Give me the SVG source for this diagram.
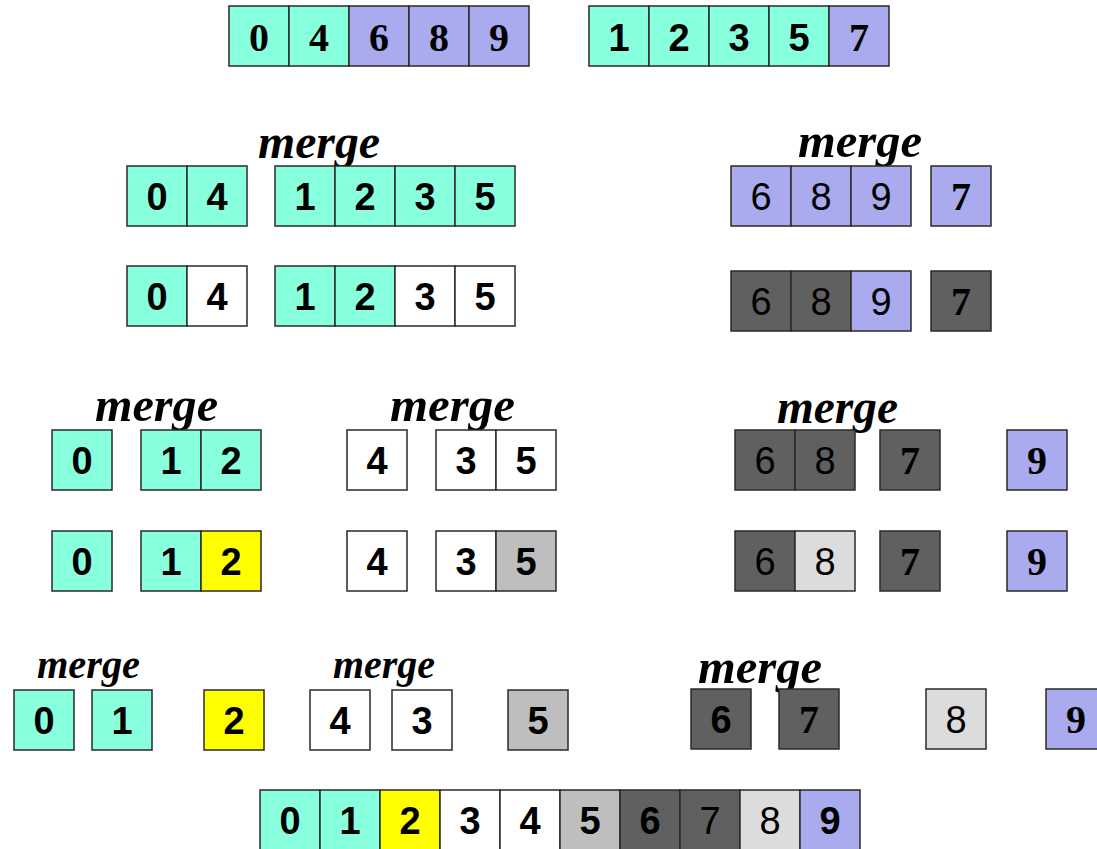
<svg xmlns="http://www.w3.org/2000/svg" width="1097" height="849" viewBox="0 0 1097 849">
<style>
.c rect{stroke:#2a2a2a;stroke-width:1.5}
.aq{fill:#88FFDD}.lv{fill:#AAAAEE}.dg{fill:#606060}.w{fill:#FFFFFF}.y{fill:#FFFF00}.lg{fill:#BEBEBE}.ll{fill:#DCDCDC}
text{text-anchor:middle;fill:#000}
.s{font-family:"Liberation Sans",Arial,sans-serif;font-weight:bold;font-size:38px}
.n{font-family:"Liberation Sans",Arial,sans-serif;font-weight:normal;font-size:38px}
.t{font-family:"Liberation Serif","Times New Roman",serif;font-weight:bold;font-size:40px}
.m{font-family:"Liberation Serif","Times New Roman",serif;font-weight:bold;font-style:italic;font-size:48px;text-anchor:start}
.ms{font-family:"Liberation Serif","Times New Roman",serif;font-weight:bold;font-style:italic;font-size:39px;text-anchor:start}
</style>
<rect x="0" y="0" width="1097" height="849" fill="#fff"/>

<!-- Row 1 -->
<g id="r1-left" class="c">
<rect class="aq" x="229" y="6" width="60" height="60"/><rect class="aq" x="289" y="6" width="60" height="60"/><rect class="lv" x="349" y="6" width="60" height="60"/><rect class="lv" x="409" y="6" width="60" height="60"/><rect class="lv" x="469" y="6" width="60" height="60"/>
<text class="t" x="259" y="51">0</text><text class="t" x="319" y="51">4</text><text class="t" x="379" y="51">6</text><text class="t" x="439" y="51">8</text><text class="t" x="499" y="51">9</text>
</g>
<g id="r1-right" class="c">
<rect class="aq" x="589" y="6" width="60" height="60"/><rect class="aq" x="649" y="6" width="60" height="60"/><rect class="aq" x="709" y="6" width="60" height="60"/><rect class="aq" x="769" y="6" width="60" height="60"/><rect class="lv" x="829" y="6" width="60" height="60"/>
<text class="s" x="619" y="51">1</text><text class="s" x="679" y="51">2</text><text class="s" x="739" y="51">3</text><text class="s" x="799" y="51">5</text><text class="t" x="859" y="51">7</text>
</g>

<!-- Row 2 -->
<g id="r2-labels">
<text class="m" x="258" y="158" textLength="122" lengthAdjust="spacingAndGlyphs">merge</text>
<text class="m" x="798" y="157" textLength="124" lengthAdjust="spacingAndGlyphs">merge</text>
</g>
<g id="r2-a" class="c">
<rect class="aq" x="127" y="166" width="60" height="60"/><rect class="aq" x="187" y="166" width="60" height="60"/>
<text class="s" x="157" y="210">0</text><text class="s" x="217" y="210">4</text>
</g>
<g id="r2-b" class="c">
<rect class="aq" x="275" y="166" width="60" height="60"/><rect class="aq" x="335" y="166" width="60" height="60"/><rect class="aq" x="395" y="166" width="60" height="60"/><rect class="aq" x="455" y="166" width="60" height="60"/>
<text class="s" x="305" y="210">1</text><text class="s" x="365" y="210">2</text><text class="s" x="425" y="210">3</text><text class="s" x="485" y="210">5</text>
</g>
<g id="r2-c" class="c">
<rect class="lv" x="731" y="166" width="60" height="60"/><rect class="lv" x="791" y="166" width="60" height="60"/><rect class="lv" x="851" y="166" width="60" height="60"/>
<text class="n" x="761" y="210">6</text><text class="n" x="821" y="210">8</text><text class="n" x="881" y="210">9</text>
</g>
<g id="r2-d" class="c">
<rect class="lv" x="931" y="166" width="60" height="60"/>
<text class="t" x="961" y="210">7</text>
</g>

<!-- Row 3 -->
<g id="r3-a" class="c">
<rect class="aq" x="127" y="266" width="60" height="60"/><rect class="w" x="187" y="266" width="60" height="60"/>
<text class="s" x="157" y="310">0</text><text class="s" x="217" y="310">4</text>
</g>
<g id="r3-b" class="c">
<rect class="aq" x="275" y="266" width="60" height="60"/><rect class="aq" x="335" y="266" width="60" height="60"/><rect class="w" x="395" y="266" width="60" height="60"/><rect class="w" x="455" y="266" width="60" height="60"/>
<text class="s" x="305" y="310">1</text><text class="s" x="365" y="310">2</text><text class="s" x="425" y="310">3</text><text class="s" x="485" y="310">5</text>
</g>
<g id="r3-c" class="c">
<rect class="dg" x="731" y="271" width="60" height="60"/><rect class="dg" x="791" y="271" width="60" height="60"/><rect class="lv" x="851" y="271" width="60" height="60"/>
<text class="n" x="761" y="315">6</text><text class="n" x="821" y="315">8</text><text class="n" x="881" y="315">9</text>
</g>
<g id="r3-d" class="c">
<rect class="dg" x="931" y="271" width="60" height="60"/>
<text class="t" x="961" y="315">7</text>
</g>

<!-- Row 4 -->
<g id="r4-labels">
<text class="m" x="95" y="421" textLength="123" lengthAdjust="spacingAndGlyphs">merge</text>
<text class="m" x="390" y="421" textLength="125" lengthAdjust="spacingAndGlyphs">merge</text>
<text class="m" x="777" y="423" textLength="121" lengthAdjust="spacingAndGlyphs">merge</text>
</g>
<g id="r4-a" class="c"><rect class="aq" x="52" y="430" width="60" height="60"/><text class="s" x="82" y="474">0</text></g>
<g id="r4-b" class="c">
<rect class="aq" x="141" y="430" width="60" height="60"/><rect class="aq" x="201" y="430" width="60" height="60"/>
<text class="s" x="171" y="474">1</text><text class="s" x="231" y="474">2</text>
</g>
<g id="r4-c" class="c"><rect class="w" x="347" y="430" width="60" height="60"/><text class="s" x="377" y="474">4</text></g>
<g id="r4-d" class="c">
<rect class="w" x="436" y="430" width="60" height="60"/><rect class="w" x="496" y="430" width="60" height="60"/>
<text class="s" x="466" y="474">3</text><text class="s" x="526" y="474">5</text>
</g>
<g id="r4-e" class="c">
<rect class="dg" x="735" y="430" width="60" height="60"/><rect class="dg" x="795" y="430" width="60" height="60"/>
<text class="n" x="765" y="474">6</text><text class="n" x="825" y="474">8</text>
</g>
<g id="r4-f" class="c"><rect class="dg" x="880" y="430" width="60" height="60"/><text class="t" x="910" y="474">7</text></g>
<g id="r4-g" class="c"><rect class="lv" x="1007" y="430" width="60" height="60"/><text class="t" x="1037" y="474">9</text></g>

<!-- Row 5 -->
<g id="r5-a" class="c"><rect class="aq" x="52" y="531" width="60" height="60"/><text class="s" x="82" y="575">0</text></g>
<g id="r5-b" class="c">
<rect class="aq" x="141" y="531" width="60" height="60"/><rect class="y" x="201" y="531" width="60" height="60"/>
<text class="s" x="171" y="575">1</text><text class="s" x="231" y="575">2</text>
</g>
<g id="r5-c" class="c"><rect class="w" x="347" y="531" width="60" height="60"/><text class="s" x="377" y="575">4</text></g>
<g id="r5-d" class="c">
<rect class="w" x="436" y="531" width="60" height="60"/><rect class="lg" x="496" y="531" width="60" height="60"/>
<text class="s" x="466" y="575">3</text><text class="s" x="526" y="575">5</text>
</g>
<g id="r5-e" class="c">
<rect class="dg" x="735" y="531" width="60" height="60"/><rect class="ll" x="795" y="531" width="60" height="60"/>
<text class="n" x="765" y="575">6</text><text class="n" x="825" y="575">8</text>
</g>
<g id="r5-f" class="c"><rect class="dg" x="880" y="531" width="60" height="60"/><text class="t" x="910" y="575">7</text></g>
<g id="r5-g" class="c"><rect class="lv" x="1007" y="531" width="60" height="60"/><text class="t" x="1037" y="575">9</text></g>

<!-- Row 6 -->
<g id="r6-labels">
<text class="ms" x="37" y="678" textLength="103" lengthAdjust="spacingAndGlyphs">merge</text>
<text class="ms" x="333" y="678" textLength="102" lengthAdjust="spacingAndGlyphs">merge</text>
<text class="m" x="698" y="683" textLength="124" lengthAdjust="spacingAndGlyphs">merge</text>
</g>
<g id="r6-0" class="c"><rect class="aq" x="14" y="690" width="60" height="60"/><text class="s" x="44" y="734">0</text></g>
<g id="r6-1" class="c"><rect class="aq" x="92" y="690" width="60" height="60"/><text class="s" x="122" y="734">1</text></g>
<g id="r6-2" class="c"><rect class="y" x="204" y="690" width="60" height="60"/><text class="s" x="234" y="734">2</text></g>
<g id="r6-4" class="c"><rect class="w" x="310" y="690" width="60" height="60"/><text class="s" x="340" y="734">4</text></g>
<g id="r6-3" class="c"><rect class="w" x="392" y="690" width="60" height="60"/><text class="s" x="422" y="734">3</text></g>
<g id="r6-5" class="c"><rect class="lg" x="508" y="690" width="60" height="60"/><text class="s" x="538" y="734">5</text></g>
<g id="r6-6" class="c"><rect class="dg" x="691" y="689" width="60" height="60"/><text class="s" x="721" y="733">6</text></g>
<g id="r6-7" class="c"><rect class="dg" x="779" y="689" width="60" height="60"/><text class="t" x="809" y="733">7</text></g>
<g id="r6-8" class="c"><rect class="ll" x="926" y="689" width="60" height="60"/><text class="n" x="956" y="733">8</text></g>
<g id="r6-9" class="c"><rect class="lv" x="1046" y="689" width="60" height="60"/><text class="t" x="1076" y="733">9</text></g>

<!-- Final -->
<g id="final" class="c">
<rect class="aq" x="260" y="790" width="60" height="60"/><rect class="aq" x="320" y="790" width="60" height="60"/><rect class="y" x="380" y="790" width="60" height="60"/><rect class="w" x="440" y="790" width="60" height="60"/><rect class="w" x="500" y="790" width="60" height="60"/><rect class="lg" x="560" y="790" width="60" height="60"/><rect class="dg" x="620" y="790" width="60" height="60"/><rect class="dg" x="680" y="790" width="60" height="60"/><rect class="ll" x="740" y="790" width="60" height="60"/><rect class="lv" x="800" y="790" width="60" height="60"/>
<text class="s" x="290" y="834">0</text><text class="s" x="350" y="834">1</text><text class="s" x="410" y="834">2</text><text class="s" x="470" y="834">3</text><text class="s" x="530" y="834">4</text><text class="s" x="590" y="834">5</text><text class="s" x="650" y="834">6</text><text class="n" x="710" y="834">7</text><text class="n" x="770" y="834">8</text><text class="s" x="830" y="834">9</text>
</g>
</svg>
